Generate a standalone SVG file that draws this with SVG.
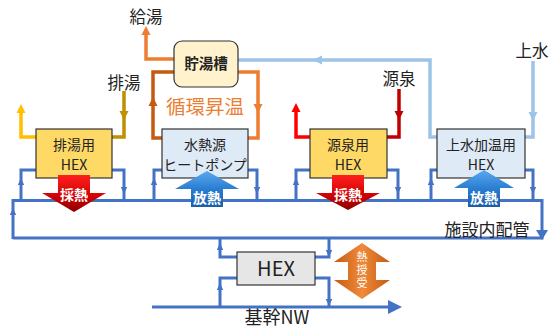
<svg xmlns="http://www.w3.org/2000/svg" xmlns:xlink="http://www.w3.org/1999/xlink" width="555" height="330" viewBox="0 0 555 330">
<defs>
<style>
text{font-family:"Noto Sans CJK JP","Noto Sans",sans-serif;fill:#222}
.lbl{font-size:16.5px;text-anchor:middle}
.box{stroke:#333;stroke-width:1.2}
.bt{font-size:14px;text-anchor:middle;fill:#222}
.pipe{fill:none;stroke-width:3.5;stroke-linejoin:miter}
.bl{fill:none;stroke:#4472C4;stroke-width:3}
.ar{font-size:14px;font-weight:bold;fill:#fff;text-anchor:middle}
</style>
<polygon id="ah" points="0,0 -4.5,9 4.5,9"/>
<polygon id="sh" points="0,0 -3.2,7 3.2,7" fill="#4472C4"/>
<linearGradient id="gRed" x1="0" y1="0" x2="0" y2="1">
<stop offset="0" stop-color="#FF2020"/><stop offset="0.6" stop-color="#D00000"/><stop offset="1" stop-color="#8B0000"/>
</linearGradient>
<linearGradient id="gBlue" x1="0" y1="0" x2="0" y2="1">
<stop offset="0" stop-color="#5BA8F0"/><stop offset="0.5" stop-color="#2A7DD1"/><stop offset="1" stop-color="#1A5EA8"/>
</linearGradient>
<linearGradient id="gOr" x1="0" y1="0" x2="1" y2="0">
<stop offset="0" stop-color="#C55A11"/><stop offset="0.5" stop-color="#F08A3A"/><stop offset="1" stop-color="#C55A11"/>
</linearGradient>
</defs>
<g id="connectors">
<path class="bl" d="M13,239 V200.5 H542 V238 H13"/>
<use xlink:href="#sh" transform="translate(13,208)"/>
<polygon points="542,240 536,230 548,230" fill="#4472C4"/>
<path class="bl" d="M21,200.5 V170 H36 M112,170 H124 V200.5"/>
<use xlink:href="#sh" transform="translate(21,178)"/>
<use xlink:href="#sh" transform="translate(124,194) rotate(180)"/>
<path class="bl" d="M154,200.5 V170 H162 M248,170 H257 V200.5"/>
<use xlink:href="#sh" transform="translate(154,178)"/>
<use xlink:href="#sh" transform="translate(257,194) rotate(180)"/>
<path class="bl" d="M296,200.5 V170 H310 M387,170 H398 V200.5"/>
<use xlink:href="#sh" transform="translate(296,178)"/>
<use xlink:href="#sh" transform="translate(398,194) rotate(180)"/>
<path class="bl" d="M431,200.5 V170 H437 M525,170 H533 V200.5"/>
<use xlink:href="#sh" transform="translate(431,178)"/>
<use xlink:href="#sh" transform="translate(533,194) rotate(180)"/>
<path class="bl" d="M220,238 V257 H237 M220,307 V278 H237 M315,257 H329 V238 M315,278 H329 V307"/>
<use xlink:href="#sh" transform="translate(220,243)"/>
<use xlink:href="#sh" transform="translate(220,283)"/>
<use xlink:href="#sh" transform="translate(329,257) rotate(180)"/>
<use xlink:href="#sh" transform="translate(329,306) rotate(180)"/>
<path class="bl" d="M152,307 H392" stroke-width="3.5"/>
<polygon points="402,307 388,300 388,314" fill="#4472C4"/>
<path class="pipe" stroke="#ED7D31" d="M174,59 H146 V34"/>
<use xlink:href="#ah" transform="translate(146,26)" fill="#ED7D31"/>
<path class="pipe" stroke="#C55A11" d="M174,72 H153 V138 H162"/>
<use xlink:href="#ah" transform="translate(153,97)" fill="#C55A11"/>
<path class="pipe" stroke="#ED7D31" d="M238,72 H258 V138 H248"/>
<use xlink:href="#ah" transform="translate(258,113) rotate(180)" fill="#ED7D31"/>
<path class="pipe" stroke="#9DC3E6" d="M238,60 H430 V137 H437"/>
<use xlink:href="#ah" transform="translate(313,60) rotate(-90)" fill="#9DC3E6"/>
<path class="pipe" stroke="#9DC3E6" d="M533,61 V137 H525"/>
<use xlink:href="#ah" transform="translate(533,121) rotate(180)" fill="#9DC3E6"/>
<path class="pipe" stroke="#FFC000" d="M36,137 H21 V112"/>
<use xlink:href="#ah" transform="translate(21,104)" fill="#FFC000"/>
<path class="pipe" stroke="#BF9000" d="M124,91 V137 H112"/>
<use xlink:href="#ah" transform="translate(124,120) rotate(180)" fill="#BF9000"/>
<path class="pipe" stroke="#FF0000" d="M310,137 H296 V111"/>
<use xlink:href="#ah" transform="translate(296,103)" fill="#FF0000"/>
<path class="pipe" stroke="#C00000" d="M399,89 V137 H387"/>
<use xlink:href="#ah" transform="translate(399,120) rotate(180)" fill="#C00000"/>
</g>
<g id="tank">
<rect x="174" y="41" width="64" height="46" rx="8" fill="#FFF2CC" class="box"/>
<text x="206" y="69" font-size="14.5" font-weight="bold" text-anchor="middle" fill="#111">貯湯槽</text>
</g>
<g id="hex-drain">
<rect x="36" y="129" width="76" height="49" fill="#FFD966" class="box"/>
<text class="bt" x="74" y="150">排湯用</text>
<text class="bt" x="74" y="170">HEX</text>
</g>
<g id="heatpump">
<rect x="162" y="129" width="86" height="49" fill="#DEEBF7" class="box"/>
<text class="bt" x="205" y="150">水熱源</text>
<text class="bt" x="205" y="170">ヒートポンプ</text>
</g>
<g id="hex-spring">
<rect x="310" y="129" width="77" height="49" fill="#FFD966" class="box"/>
<text class="bt" x="348" y="150">源泉用</text>
<text class="bt" x="348" y="170">HEX</text>
</g>
<g id="hex-tap">
<rect x="437" y="129" width="88" height="49" fill="#DEEBF7" class="box"/>
<text class="bt" x="481" y="150">上水加温用</text>
<text class="bt" x="481" y="170">HEX</text>
</g>
<g id="hex-main">
<rect x="237" y="252" width="78" height="33" fill="#E7E6E6" class="box"/>
<text x="276" y="276" font-size="20" text-anchor="middle" font-family="Liberation Sans, sans-serif">HEX</text>
</g>
<g id="arrow-collect-1">
<polygon points="58,175 90,175 90,193 106,193 74,212 42,193 58,193" fill="url(#gRed)"/>
<text class="ar" x="74" y="200">採熱</text>
</g>
<g id="arrow-collect-2">
<polygon points="332,175 364,175 364,193 380,193 348,210 316,193 332,193" fill="url(#gRed)"/>
<text class="ar" x="348" y="200">採熱</text>
</g>
<g id="arrow-release-1">
<polygon points="207,171 239,189 223,189 223,207 191,207 191,189 175,189" fill="url(#gBlue)"/>
<text class="ar" x="207" y="203">放熱</text>
</g>
<g id="arrow-release-2">
<polygon points="484,170 514,188 500,188 500,207 468,207 468,188 454,188" fill="url(#gBlue)"/>
<text class="ar" x="484" y="203">放熱</text>
</g>
<g id="arrow-exchange">
<polygon points="362,243 390,262 376,262 376,280 390,280 362,299 334,280 348,280 348,262 334,262" fill="url(#gOr)"/>
<text x="362" y="251" font-size="11" fill="#fff" style="fill:#fff;writing-mode:vertical-rl;letter-spacing:2px">熱授受</text>
</g>
<g id="labels">
<text class="lbl" x="146" y="23">給湯</text>
<text class="lbl" x="124" y="89">排湯</text>
<text class="lbl" x="399" y="85">源泉</text>
<text class="lbl" x="532" y="57">上水</text>
<text x="205" y="114" font-size="19.5" text-anchor="middle" style="fill:#ED7D31">循環昇温</text>
<text x="487" y="236" font-size="17" text-anchor="middle">施設内配管</text>
<text x="277" y="324" font-size="18" text-anchor="middle">基幹NW</text>
</g>
</svg>
